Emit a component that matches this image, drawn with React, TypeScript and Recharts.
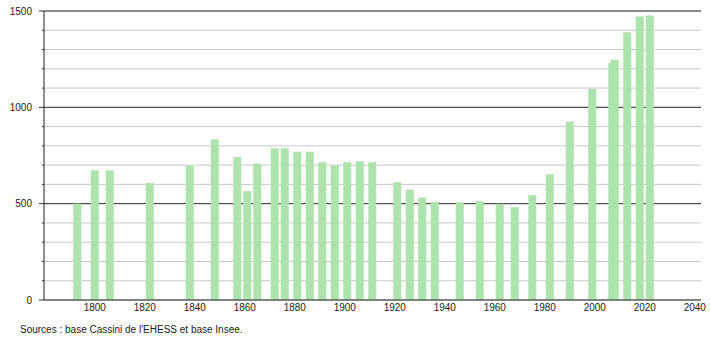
import React from 'react';
import { Bar, BarChart, CartesianGrid, XAxis, YAxis } from 'recharts';

document.body.style.margin = '0';

const years = [
	1793, 1800, 1806, 1822, 1838, 1848, 1857, 1861, 1865, 1872, 1876, 1881, 1886, 1891,
	1896, 1901, 1906, 1911, 1921, 1926, 1931, 1936, 1946, 1954, 1962, 1968, 1975, 1982,
	1990, 1999, 2007, 2008, 2013, 2018, 2022,
];
const population = [
	500, 673, 673, 608, 696, 834, 742, 565, 708, 787, 787, 770, 770, 715, 698, 715, 720,
	715, 611, 573, 532, 508, 508, 513, 499, 482, 544, 653, 926, 1097, 1230, 1247, 1390,
	1472, 1477,
];
const xTicks = [1800, 1820, 1840, 1860, 1880, 1900, 1920, 1940, 1960, 1980, 2000, 2020, 2040];
const yTicks = [
	0, 100, 200, 300, 400, 500, 600, 700, 800, 900, 1000, 1100, 1200, 1300, 1400, 1500,
];
const majorTicks = [500, 1000, 1500];
const source = "Sources : base Cassini de l'EHESS et base Insee.";

const data = years.map((year, i) => ({ year, value: population[i] }));

const FONT = '"Liberation Sans", Arial, sans-serif';
const BAR_W = 8;

function YTick(props: any) {
	const { x, y, payload } = props;
	const major = payload.value % 500 === 0;
	return (
		<g>
			<line x1={x - (major ? 5 : 2)} x2={x} y1={y} y2={y} stroke="#333" />
			{major && (
				<text
					x={x - 12}
					y={y}
					dy="0.355em"
					textAnchor="end"
					fontSize={10}
					fontFamily={FONT}
					fill="#222"
				>
					{payload.value}
				</text>
			)}
		</g>
	);
}

// bars closer than the bar width shrink in recharts, so draw a fixed width around the centre
function FixedBar(props: any) {
	const { x, y, width, height, fill } = props;
	if (height == null || height <= 0) return null;
	const cx = x + width / 2;
	return <rect x={cx - BAR_W / 2} y={y} width={BAR_W} height={height} fill={fill} />;
}

export default function App() {
	return (
		<div style={{ position: 'relative', width: 710, height: 340, background: '#fff' }}>
			<BarChart
				width={710}
				height={340}
				data={data}
				margin={{ top: 11, right: 9, bottom: 10, left: 0 }}
			>
				<CartesianGrid vertical={false} horizontalValues={yTicks} stroke="#c8c8c8" />
				<CartesianGrid vertical={false} horizontalValues={majorTicks} stroke="#333" />
				<XAxis
					type="number"
					dataKey="year"
					domain={[1779.7, 2042.5]}
					ticks={xTicks}
					allowDataOverflow
					height={30}
					tickLine={false}
					tickSize={0}
					tickMargin={4}
					axisLine={{ stroke: '#222' }}
					tick={{ fontSize: 10, fontFamily: FONT, fill: '#222' }}
				/>
				<YAxis
					type="number"
					domain={[0, 1500]}
					ticks={yTicks}
					width={44}
					tickLine={false}
					tickSize={0}
					tickMargin={0}
					interval={0}
					axisLine={{ stroke: '#222' }}
					tick={<YTick />}
				/>
				<Bar
					dataKey="value"
					fill="#ade3ad"
					shape={<FixedBar />}
					isAnimationActive={false}
				/>
			</BarChart>
			<div
				style={{
					position: 'absolute',
					left: 20,
					top: 324,
					fontSize: 10,
					fontFamily: FONT,
					color: '#222',
				}}
			>
				{source}
			</div>
		</div>
	);
}
